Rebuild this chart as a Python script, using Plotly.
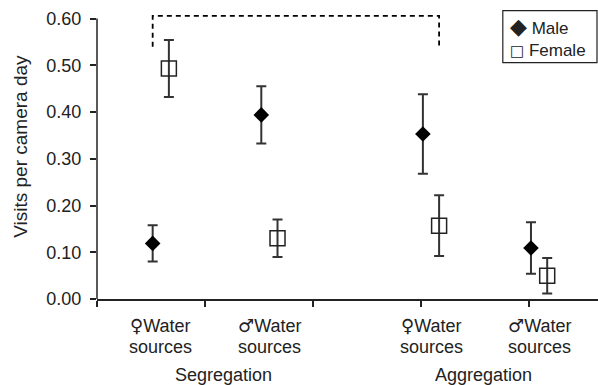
import plotly.graph_objects as go

# ---- data ----
categories = ["♀Water\nsources", "♂Water\nsources", "♀Water\nsources", "♂Water\nsources"]
treatments = ["Segregation", "Aggregation"]
male_mean = [0.119, 0.394, 0.353, 0.109]
male_err = [0.039, 0.061, 0.085, 0.055]
female_mean = [0.493, 0.130, 0.157, 0.050]
female_err = [0.061, 0.040, 0.065, 0.038]
y_ticks = [0.0, 0.1, 0.2, 0.3, 0.4, 0.5, 0.6]
x_ticks = [0, 1, 2, 3, 4]
y_title = "Visits per camera day"

# layout positions of the category centres on the numeric x axis
cat_pos = [0.59, 1.595, 3.09, 4.09]
treat_pos = [1.17, 3.58]
offset = 0.075
male_x = [p - offset for p in cat_pos]
female_x = [p + offset for p in cat_pos]

FONT = "Liberation Sans, Arial, sans-serif"
TXT = "#222222"
AX = "#222222"
PLOT_H = 285.6  # plot area height in px (for paper-coordinate placement)


def py(pix):
    """convert a pixel row to paper y"""
    return (299 - pix) / PLOT_H


fig = go.Figure()
fig.add_trace(go.Scatter(
    x=male_x, y=male_mean, mode="markers", name="Male",
    marker=dict(symbol="diamond", size=12, color="black"),
    error_y=dict(type="data", array=male_err, color="#333333", thickness=2, width=5),
    showlegend=False, cliponaxis=False))
fig.add_trace(go.Scatter(
    x=female_x, y=female_mean, mode="markers", name="Female",
    marker=dict(symbol="square-open", size=15, color="#222222", line=dict(width=1.5)),
    error_y=dict(type="data", array=female_err, color="#333333", thickness=2, width=5),
    showlegend=False, cliponaxis=False))

shapes = []
# y axis line (0 to 0.60)
shapes.append(dict(type="line", xref="paper", yref="y", x0=0, x1=0, y0=0, y1=0.6,
                   line=dict(color=AX, width=1.5), layer="above"))
# dashed comparison bracket
bx0, bx1 = male_x[0], female_x[2]
shapes.append(dict(type="path", xref="x", yref="y",
                   path=f"M {bx0},0.54 L {bx0},0.606 L {bx1},0.606 L {bx1},0.54",
                   line=dict(color="black", width=1.8, dash="5px,4px")))
# legend box
shapes.append(dict(type="rect", xref="paper", yref="paper", x0=0.810, x1=0.998,
                   y0=py(63), y1=py(11),
                   line=dict(color="#222222", width=1.2), fillcolor="white"))

SYM = "<span style='font-family:DejaVu Sans'>{}</span>"
annotations = []
for pos, lab in zip(cat_pos, categories):
    l1, l2 = lab.split("\n")
    l1 = SYM.format(l1[0]) + l1[1:]
    annotations.append(dict(text=l1, x=pos, xref="x", y=py(325.5), yref="paper",
                            showarrow=False, yanchor="middle",
                            font=dict(size=18, color=TXT, family=FONT)))
    annotations.append(dict(text=l2, x=pos, xref="x", y=py(346.5), yref="paper",
                            showarrow=False, yanchor="middle",
                            font=dict(size=18, color=TXT, family=FONT)))
for pos, lab in zip(treat_pos, treatments):
    annotations.append(dict(text=lab, x=pos, xref="x", y=py(375), yref="paper", showarrow=False,
                            font=dict(size=18, color=TXT, family=FONT), yanchor="middle"))
annotations.append(dict(text=y_title, textangle=-90, x=(21 - 97) / 501, xref="paper",
                        y=py(147), yref="paper", showarrow=False,
                        xanchor="center", yanchor="middle",
                        font=dict(size=19, color=TXT, family=FONT)))
annotations.append(dict(text="<span style='font-family:DejaVu Sans;font-size:22px'>◆</span> Male",
                        x=(508 - 97) / 501, xref="paper", y=py(27), yref="paper",
                        showarrow=False, xanchor="left", yanchor="middle",
                        font=dict(size=17, color=TXT, family=FONT)))
annotations.append(dict(text="<span style='font-family:DejaVu Sans;font-size:15px'>□</span> Female",
                        x=(508 - 97) / 501, xref="paper", y=py(51), yref="paper",
                        showarrow=False, xanchor="left", yanchor="middle",
                        font=dict(size=17, color=TXT, family=FONT)))

fig.update_layout(
    width=598, height=385,
    margin=dict(l=97, r=0, t=13.4, b=86),
    plot_bgcolor="white", paper_bgcolor="white",
    font=dict(family=FONT, size=18, color=TXT),
    shapes=shapes, annotations=annotations,
    xaxis=dict(range=[0, 4.635], showgrid=False, zeroline=False,
               showline=True, linecolor=AX, linewidth=1.5,
               tickmode="array", tickvals=x_ticks, ticks="outside",
               ticklen=6, tickwidth=1.5, tickcolor=AX, showticklabels=False),
    yaxis=dict(range=[0, 0.612], showgrid=False, zeroline=False, showline=False,
               tickmode="array", tickvals=y_ticks, tickformat=".2f",
               ticks="outside", ticklen=6, tickwidth=1.5, tickcolor=AX,
               ticklabelstandoff=5,
               tickfont=dict(size=18, color=TXT, family=FONT)),
)

fig.write_html("out.html")
